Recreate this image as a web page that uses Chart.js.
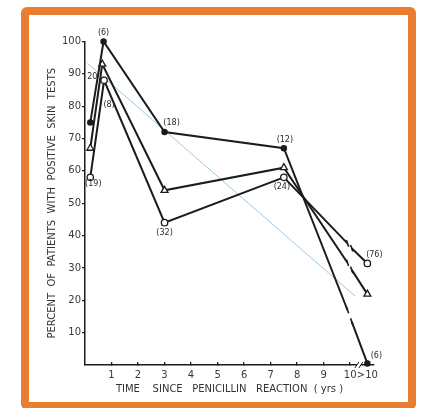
<!DOCTYPE html>
<html>
<head>
<meta charset="utf-8">
<script src="https://cdn.jsdelivr.net/npm/chart.js@4.4.1/dist/chart.umd.min.js"></script>
<style>
  html, body { margin: 0; padding: 0; background: #fff; }
  #frame { position: absolute; left: 21px; top: 7px; width: 395px; height: 403px;
           box-sizing: border-box; border: 8px solid #e97d30; border-radius: 6px; background: #fff; }
  #wrap { position: absolute; left: 0; top: 0; width: 424px; height: 408px; }
</style>
</head>
<body>
<div id="frame"></div>
<div id="wrap"><canvas id="c" width="424" height="408"></canvas></div>
<script>
// ---- data ----
// filled dots
const xFilled = [0.2, 0.7, 3, 7.5, 9.9, 9.98, 10.06, 10.65];
const yFilled = [75, 100, 72, 67, 17, null, 13.4, 0.5];
// open triangles
const xTri = [0.2, 0.65, 3, 7.5, 9.9, 9.98, 10.06, 10.65];
const yTri = [67, 93, 54, 61, 31.6, null, 29.4, 21.9];
// open circles
const xCirc = [0.2, 0.72, 3, 7.5, 9.9, 9.98, 10.06, 10.65];
const yCirc = [58, 88, 44, 58, 37.6, null, 36.1, 31.4];
// thin blue trend line
const xTrend = [0.09, 10.19];
const yTrend = [93.3, 21.3];

// axis ticks
const xTickValues = [1, 2, 3, 4, 5, 6, 7, 8, 9, 10, 10.65];
const xTickLabels = ['1', '2', '3', '4', '5', '6', '7', '8', '9', '10', '>10'];
const yTickValues = [10, 20, 30, 40, 50, 60, 70, 80, 90, 100];

// point annotations: series, point index, text
const notes = [
  { s: 0, i: 1, text: '(6)',  dx: 0,   dy: -9 },
  { s: 1, i: 1, text: '20',   dx: -10, dy: 13 },
  { s: 2, i: 1, text: '(8)',  dx: 5,   dy: 25 },
  { s: 2, i: 0, text: '(19)', dx: 3,   dy: 7 },
  { s: 0, i: 2, text: '(18)', dx: 7,   dy: -9 },
  { s: 2, i: 2, text: '(32)', dx: 0,   dy: 10 },
  { s: 0, i: 3, text: '(12)', dx: 1,   dy: -8 },
  { s: 2, i: 3, text: '(24)', dx: -2,  dy: 10 },
  { s: 2, i: 7, text: '(76)', dx: 7,   dy: -8 },
  { s: 0, i: 7, text: '(6)',  dx: 9,   dy: -7 }
];
const xBreakAt = 10.33;

const INK = '#1c1c1c';
const pts = (xs, ys) => xs.map((x, k) => ({ x: x, y: ys[k] }));
const isBreak = c => c.dataIndex === 4 || c.dataIndex === 6;

function series(xs, ys, style, radius, fill) {
  return {
    data: pts(xs, ys),
    borderColor: INK, borderWidth: 2, spanGaps: false, clip: false,
    pointStyle: c => isBreak(c) ? 'line' : style,
    pointRotation: c => isBreak(c) ? 70 : 0,
    pointRadius: c => isBreak(c) ? 3.5 : radius,
    pointBorderColor: INK,
    pointBorderWidth: c => isBreak(c) ? 1.6 : 1.3,
    pointBackgroundColor: fill,
    tension: 0
  };
}

const labelPlugin = {
  id: 'notes',
  afterDatasetsDraw(chart) {
    const ctx = chart.ctx;
    ctx.save();
    ctx.font = '8px "DejaVu Sans"';
    ctx.fillStyle = '#2a2a2a';
    ctx.textAlign = 'center';
    ctx.textBaseline = 'middle';
    notes.forEach(n => {
      const el = chart.getDatasetMeta(n.s).data[n.i];
      ctx.fillText(n.text, el.x + n.dx, el.y + n.dy);
    });
    // break marks on the x axis
    const xs = chart.scales.x, y0 = chart.chartArea.bottom;
    const bx = xs.getPixelForValue(xBreakAt);
    ctx.fillStyle = '#fff';
    ctx.fillRect(bx - 2, y0 - 2, 4, 4);
    ctx.strokeStyle = INK; ctx.lineWidth = 1;
    [-2, 2].forEach(o => {
      ctx.beginPath();
      ctx.moveTo(bx + o - 2, y0 + 3);
      ctx.lineTo(bx + o + 2, y0 - 3);
      ctx.stroke();
    });
    ctx.restore();
  }
};

Chart.defaults.font.family = '"DejaVu Sans"';
Chart.defaults.color = '#3a3a3a';

new Chart(document.getElementById('c'), {
  type: 'line',
  data: {
    datasets: [
      series(xFilled, yFilled, 'circle', 2.6, INK),
      series(xTri, yTri, 'triangle', 4, '#fff'),
      series(xCirc, yCirc, 'circle', 3.2, '#fff'),
      { data: pts(xTrend, yTrend), borderColor: '#9cc9e4', borderWidth: 1,
        pointRadius: 0, clip: false }
    ]
  },
  options: {
    responsive: false, animation: false,
    layout: { padding: { top: 41.5, left: 0, right: 50, bottom: 0 } },
    plugins: { legend: { display: false }, tooltip: { enabled: false } },
    scales: {
      x: {
        type: 'linear', min: 0, max: 10.9,
        afterFit: s => { s.height = 43; },
        afterBuildTicks: s => { s.ticks = xTickValues.map(v => ({ value: v })); },
        ticks: { font: { size: 10 }, padding: 7, maxRotation: 0, autoSkip: false,
                 callback: v => xTickLabels[xTickValues.indexOf(v)] },
        grid: { drawOnChartArea: false, drawTicks: true, tickLength: -3, color: INK, lineWidth: 1.3 },
        border: { display: true, color: INK, width: 1.5 },
        title: { display: true, text: 'TIME    SINCE   PENICILLIN   REACTION  ( yrs )',
                 font: { size: 10 }, color: '#333', padding: { top: 0, bottom: 13 } }
      },
      y: {
        min: 0, max: 100,
        afterFit: s => { s.width = 85; },
        afterBuildTicks: s => { s.ticks = yTickValues.map(v => ({ value: v })); },
        ticks: { font: { size: 10 }, padding: 1 },
        grid: { drawOnChartArea: false, drawTicks: true, tickLength: 3, color: INK, lineWidth: 1.3 },
        border: { display: true, color: INK, width: 1.5 },
        title: { display: true, text: 'PERCENT  OF  PATIENTS  WITH  POSITIVE  SKIN  TESTS',
                 font: { size: 10 }, color: '#333', padding: { top: 46, bottom: 0 } }
      }
    }
  },
  plugins: [labelPlugin]
});
</script>
</body>
</html>
